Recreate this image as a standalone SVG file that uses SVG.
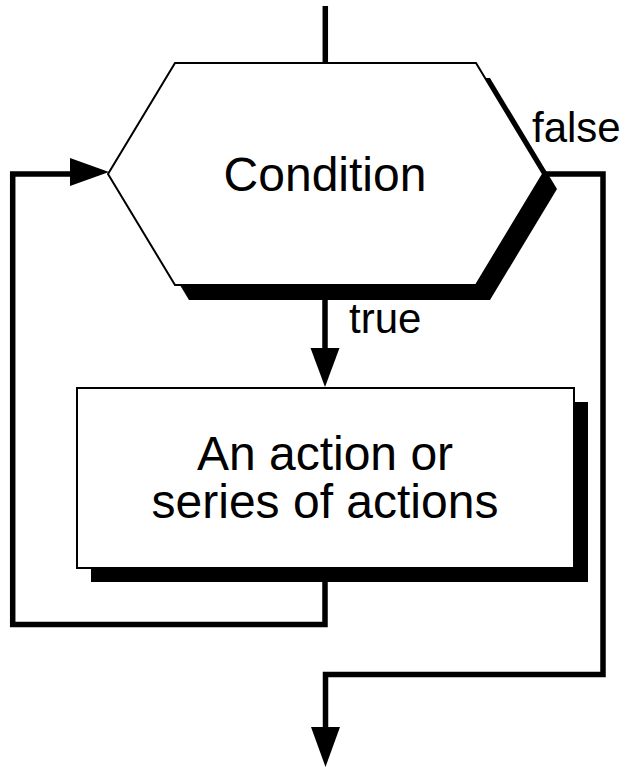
<svg xmlns="http://www.w3.org/2000/svg" width="623" height="768" viewBox="0 0 623 768">
<style>
.shape{fill:#fff;stroke:#000;stroke-width:2}
.shadow{fill:#000;stroke:none}
.conn{fill:none;stroke:#000;stroke-width:5.5;stroke-linejoin:miter}
.head{fill:#000;stroke:none}
.lbl{font-family:"Liberation Sans",Arial,sans-serif;fill:#000}
.big{font-size:48px;text-anchor:middle}
.small{font-size:42px}
</style>
<rect width="623" height="768" fill="#fff"/>
<g id="connectors">
<line class="conn" x1="325.3" y1="6" x2="325.3" y2="64"/>
<line class="conn" x1="325" y1="300" x2="325" y2="350"/>
<polygon class="head" points="310.5,348 339.5,348 325,387"/>
<path class="conn" d="M325,582 V624.5 H12.7 V174 H74"/>
<polygon class="head" points="70,158 70,186 109,172"/>
<path class="conn" d="M544,174 H603 V674.5 H325.5 V730"/>
<polygon class="head" points="311,727 340,727 325.5,767"/>
<text class="lbl small" x="349" y="333">true</text>
<text class="lbl small" x="532" y="142">false</text>
</g>
<g id="condition">
<polygon class="shadow" points="189,78 490,78 557,189 490,300 189,300 122,189"/>
<polygon class="shape" points="175,63 476,63 543,174 476,285 175,285 108,174"/>
<text class="lbl big" x="325" y="191">Condition</text>
</g>
<g id="action">
<rect class="shadow" x="91" y="402" width="497" height="180"/>
<rect class="shape" x="77" y="388" width="497" height="180"/>
<text class="lbl big" x="325" y="470">An action or</text>
<text class="lbl big" x="325" y="518">series of actions</text>
</g>
</svg>
